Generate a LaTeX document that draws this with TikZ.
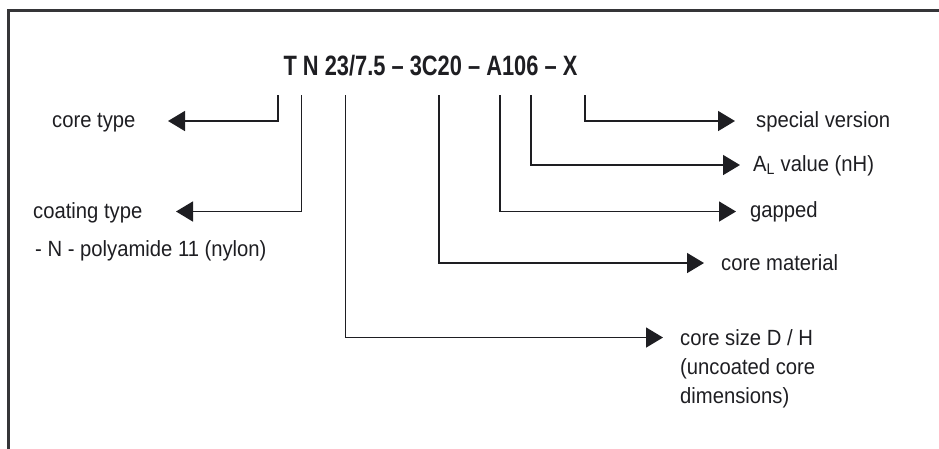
\documentclass[tikz,border=0pt]{standalone}
\usepackage{fontspec}
\setmainfont{Liberation Sans}[FakeStretch=0.92]
\newfontfamily\titlefont{Liberation Sans}[FakeStretch=0.78]
\usetikzlibrary{arrows.meta}
\definecolor{ink}{HTML}{1E1E22}
\tikzset{
  conn/.style={draw=ink, line width=1.6pt, -{Triangle[length=17pt,width=20pt]}},
  lbl/.style={inner sep=0pt, anchor=base west, text=ink, font=\fontsize{22}{29}\selectfont},
  frameline/.style={draw=ink!90, line width=3pt},
}
\begin{document}
\begin{tikzpicture}[x=1pt,y=-1pt]
\useasboundingbox (0,0) rectangle (939,448);
\draw[frameline] (8,449) -- (8,10) -- (940,10);
% title
\node[inner sep=0pt, anchor=base, text=ink, font=\titlefont\bfseries\fontsize{28}{30}\selectfont] (title) at (430.5,75) {T N 23/7.5 – 3C20 – A106 – X};
% start points under the title
\coordinate (pT) at (278,95);
\coordinate (pN) at (301.5,95);
\coordinate (pD) at (345.5,95);
\coordinate (pM) at (439,95);
\coordinate (pA) at (500,95);
\coordinate (pV) at (531,95);
\coordinate (pX) at (585,95);
% arrow tips
\coordinate (tCore) at (168,121);
\coordinate (tCoat) at (176,211.5);
\coordinate (tSpec) at (735,121);
\coordinate (tAL) at (740,165);
\coordinate (tGap) at (736,211.5);
\coordinate (tMat) at (704,263);
\coordinate (tSize) at (663,337.5);
% labels
\node[lbl] (coretype) at (52,127) {core type};
\node[lbl] (coating) at (33,218) {coating type};
\node[lbl] (nylon) at (35,256) {- N - polyamide 11 (nylon)};
\node[lbl] (special) at (756,127) {special version};
\node[lbl] (alvalue) at (753,171) {A\textsubscript{L} value (nH)};
\node[lbl] (gapped) at (750,217) {gapped};
\node[lbl] (material) at (721,270) {core material};
\node[lbl, align=left] (size) at (680,403) {core size D / H\\(uncoated core\\dimensions)};
% connectors
\draw[conn] (pT) |- (tCore);
\draw[conn] (pN) |- (tCoat);
\draw[conn] (pX) |- (tSpec);
\draw[conn] (pV) |- (tAL);
\draw[conn] (pA) |- (tGap);
\draw[conn] (pM) |- (tMat);
\draw[conn] (pD) |- (tSize);
\end{tikzpicture}
\end{document}
